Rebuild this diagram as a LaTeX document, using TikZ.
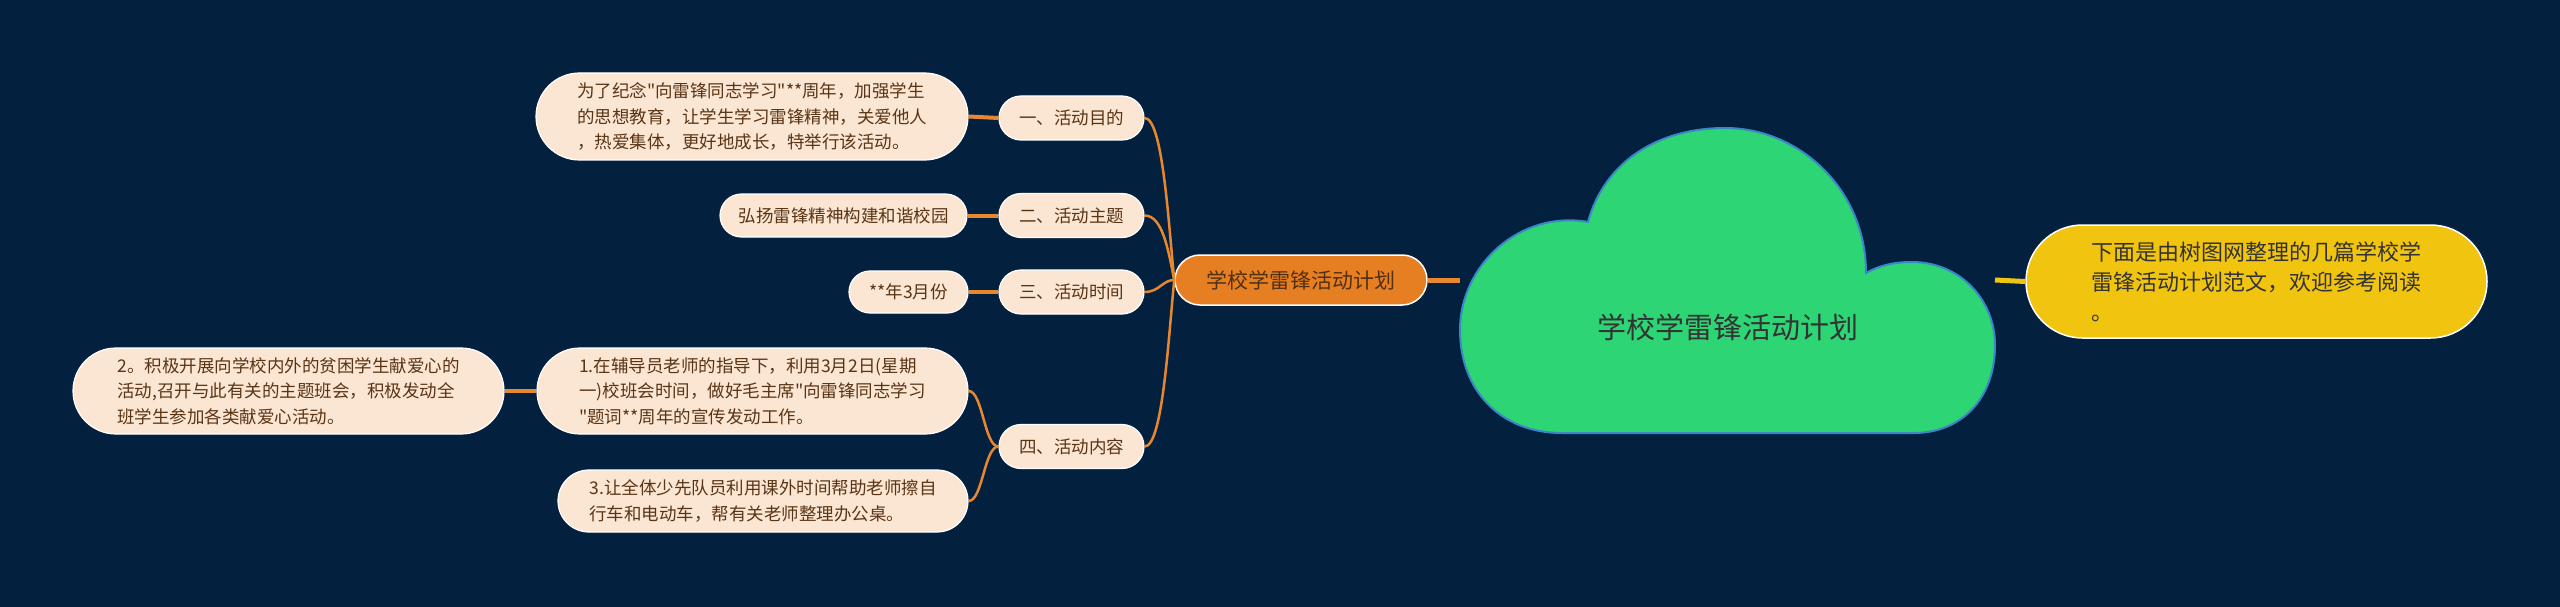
\documentclass[tikz,border=0pt]{standalone}
\usepackage{fontspec}
\newfontfamily\zh{Noto Sans CJK SC}
\usetikzlibrary{shapes.misc}
\definecolor{bgC}{HTML}{03213F}
\definecolor{peachC}{HTML}{FBE5D3}
\definecolor{brownC}{HTML}{5A3515}
\definecolor{orangeC}{HTML}{E67E22}
\definecolor{connC}{HTML}{E8872E}
\definecolor{greenC}{HTML}{2ED574}
\definecolor{blueC}{HTML}{3A86C8}
\definecolor{yelC}{HTML}{F1C40F}
\begin{document}
\zh
\begin{tikzpicture}[x=1pt,y=-1pt,
  pill/.style={rounded rectangle, fill=peachC, draw=white, line width=1.2pt, text=brownC,
    inner sep=0pt, align=left, font=\zh\fontsize{17.5}{25.5}\selectfont},
  link/.style={draw=connC, line width=2.5pt},
  straight/.style={draw=connC, line width=4pt}]
\fill[bgC] (0,0) rectangle (2560,607);
\useasboundingbox (0,0) rectangle (2560,607);

% cloud
\draw[fill=greenC, draw=blueC, line width=2pt]
  (1562,433) .. controls (1500,433) and (1460,390) .. (1460,330)
  .. controls (1460,265) and (1520,210) .. (1588,222)
  .. controls (1605,160) and (1660,128) .. (1725,128)
  .. controls (1800,128) and (1866,190) .. (1866,273)
  .. controls (1880,265) and (1895,262) .. (1912,262)
  .. controls (1960,262) and (1995,300) .. (1995,345)
  .. controls (1995,400) and (1960,433) .. (1914,433)
  -- cycle;
\node[font=\zh\fontsize{29}{34}\selectfont, text=black!80] (main) at (1728,327) {学校学雷锋活动计划};
\coordinate (cloudW) at (1460,280);
\coordinate (cloudE) at (1995,280);

% root
\node[rounded rectangle, fill=orangeC, draw=white, line width=1.5pt, text=brownC!90!black,
  inner sep=0pt, minimum width=252pt, minimum height=50pt,
  font=\zh\fontsize{21}{25}\selectfont] (root) at (1301,280) {学校学雷锋活动计划};

% yellow
\node[rounded rectangle, fill=yelC, draw=white, line width=1.5pt, text=black!80,
  inner sep=0pt, minimum width=461pt, minimum height=113pt, align=left,
  font=\zh\fontsize{22}{30}\selectfont] (intro) at (2256.5,281.5)
  {下面是由树图网整理的几篇学校学\\雷锋活动计划范文，欢迎参考阅读\\。};

% level 2
\node[pill, minimum width=145pt, minimum height=44pt] (c1) at (1071.5,118) {一、活动目的};
\node[pill, minimum width=145pt, minimum height=44pt] (c2) at (1071.5,215.5) {二、活动主题};
\node[pill, minimum width=145pt, minimum height=44pt] (c3) at (1071.5,292) {三、活动时间};
\node[pill, minimum width=145pt, minimum height=44pt] (c4) at (1071.5,446.5) {四、活动内容};

% level 3
\node[pill, minimum width=432pt, minimum height=87pt] (a1) at (752,116.5)
  {为了纪念"向雷锋同志学习"**周年，加强学生\\的思想教育，让学生学习雷锋精神，关爱他人\\，热爱集体，更好地成长，特举行该活动。};
\node[pill, minimum width=247pt, minimum height=43pt] (b1) at (843.5,215.5) {弘扬雷锋精神构建和谐校园};
\node[pill, minimum width=119pt, minimum height=42pt] (t1) at (908.5,292) {**年3月份};
\node[pill, minimum width=431pt, minimum height=86pt] (d1) at (752.5,391)
  {1.在辅导员老师的指导下，利用3月2日(星期\\一)校班会时间，做好毛主席"向雷锋同志学习\\"题词**周年的宣传发动工作。};
\node[pill, minimum width=431pt, minimum height=86pt] (d2) at (288.5,391)
  {2。积极开展向学校内外的贫困学生献爱心的\\活动,召开与此有关的主题班会，积极发动全\\班学生参加各类献爱心活动。};
\node[pill, minimum width=410pt, minimum height=62pt] (d3) at (763,501)
  {3.让全体少先队员利用课外时间帮助老师擦自\\行车和电动车，帮有关老师整理办公桌。};

% connectors
\draw[draw=connC, line width=5pt] (root.east) -- (cloudW);
\draw[draw=yelC, line width=5pt] (cloudE) -- (intro.west);

\draw[link] (c1.east) .. controls +(18,0) and +(-6,-60) .. (root.west);
\draw[link] (c2.east) .. controls +(18,0) and +(-6,-30) .. (root.west);
\draw[link] (c3.east) .. controls +(15,0) and +(-12,0) .. (root.west);
\draw[link] (c4.east) .. controls +(18,0) and +(-6,60) .. (root.west);

\draw[straight] (c1.west) -- (a1.east);
\draw[straight] (c2.west) -- (b1.east);
\draw[straight] (c3.west) -- (t1.east);
\draw[link] (c4.west) .. controls +(-14,0) and +(14,0) .. (d1.east);
\draw[link] (c4.west) .. controls +(-14,0) and +(14,0) .. (d3.east);
\draw[straight] (d1.west) -- (d2.east);
\end{tikzpicture}
\end{document}
